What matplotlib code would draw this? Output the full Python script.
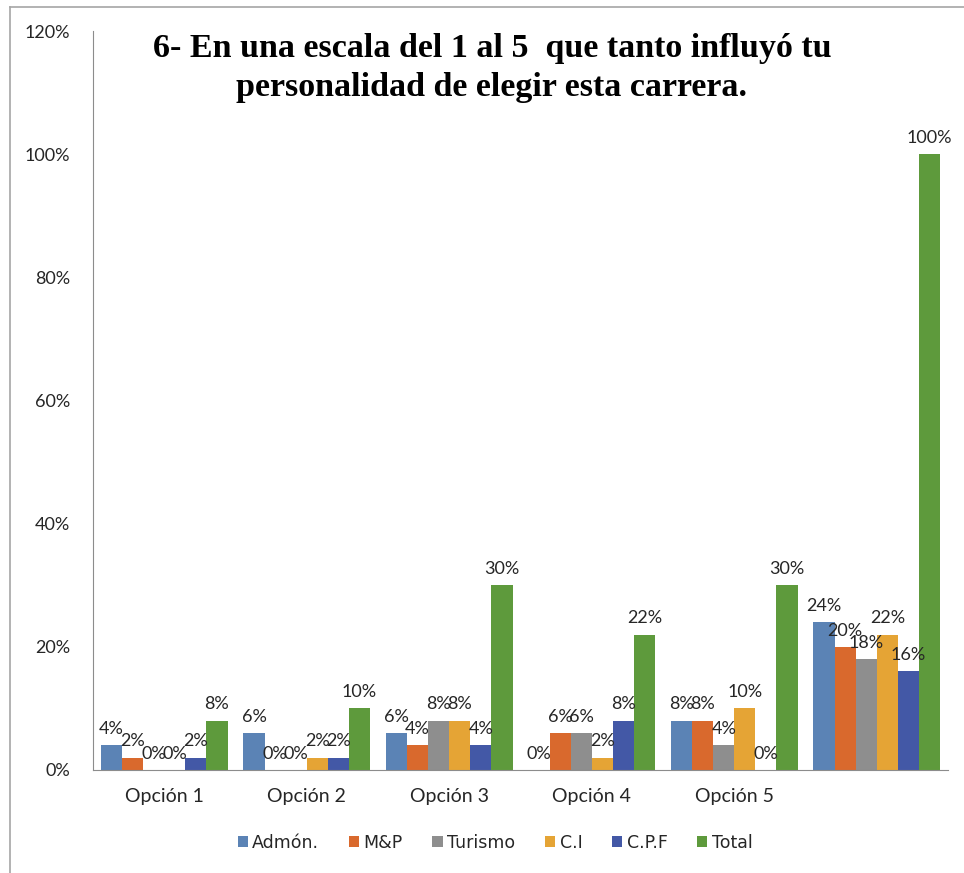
import numpy as np
import matplotlib.pyplot as plt
from matplotlib.lines import Line2D

# categorias y series
categorias = ["Opción 1", "Opción 2", "Opción 3", "Opción 4", "Opción 5", ""]
series = ["Admón.", "M&P", "Turismo", "C.I", "C.P.F", "Total"]

admon = [4, 6, 6, 0, 8, 24]
myp = [2, 0, 4, 6, 8, 20]
turismo = [0, 0, 8, 6, 4, 18]
ci = [0, 2, 8, 2, 10, 22]
cpf = [2, 2, 4, 8, 0, 16]
total = [8, 10, 30, 22, 30, 100]

colores = ["#5B83B5", "#D9692D", "#8E8E8E", "#E5A435", "#4358A6", "#5E9A3C"]

valores = [admon, myp, turismo, ci, cpf, total]

fig = plt.figure(figsize=(9.64, 8.73), dpi=100)
ax = fig.add_axes([93 / 964, 1 - 770 / 873, (948 - 93) / 964, (770 - 31) / 873])

x = np.arange(len(categorias))
ancho = 0.148
for i, (nombre, vals, col) in enumerate(zip(series, valores, colores)):
    pos = x + (i - 2.5) * ancho
    barras = ax.bar(pos, vals, width=ancho, color=col, label=nombre)
    for b, v in zip(barras, vals):
        ax.annotate(f"{v}%", (b.get_x() + b.get_width() / 2, v),
                    xytext=(0, 6), textcoords="offset points",
                    ha="center", va="bottom", fontsize=13,
                    family="Lato", color="#262626")

ax.set_xlim(-0.5, 5.5)
ax.set_ylim(0, 120)
ax.set_yticks(range(0, 121, 20))
ax.set_yticklabels([f"{t}%" for t in range(0, 121, 20)], family="Lato",
                   fontsize=13, color="#262626")
ax.set_xticks(x)
ax.set_xticklabels(categorias, family="Lato", fontsize=14, color="#262626")
ax.tick_params(axis="y", length=0, pad=16.5)
ax.tick_params(axis="x", length=0, pad=13)

for s in ["top", "right"]:
    ax.spines[s].set_visible(False)
ax.spines["left"].set_color("#8c8c8c")
ax.spines["bottom"].set_color("#8c8c8c")

fig.text(492 / 964, 1 - 68 / 873,
         "6- En una escala del 1 al 5  que tanto influyó tu\npersonalidad de elegir esta carrera.",
         ha="center", va="center", fontsize=24.5, fontweight="bold",
         family="Liberation Serif", linespacing=1.35)

leg = ax.legend(loc="center", bbox_to_anchor=(495 / 964, 1 - 843 / 873),
                bbox_transform=fig.transFigure, ncol=6, frameon=False,
                handlelength=0.6, handleheight=0.6, handletextpad=0.25,
                columnspacing=1.7, prop={"family": "DejaVu Sans", "size": 12.5})
for t in leg.get_texts():
    t.set_color("#262626")

# marco gris del grafico
fig.add_artist(Line2D([10 / 964, 10 / 964], [0, 1 - 7 / 873], color="#a6a6a6", lw=1.2))
fig.add_artist(Line2D([10 / 964, 1], [1 - 7 / 873, 1 - 7 / 873], color="#a6a6a6", lw=1.2))

fig.savefig("out.png", dpi=100)
